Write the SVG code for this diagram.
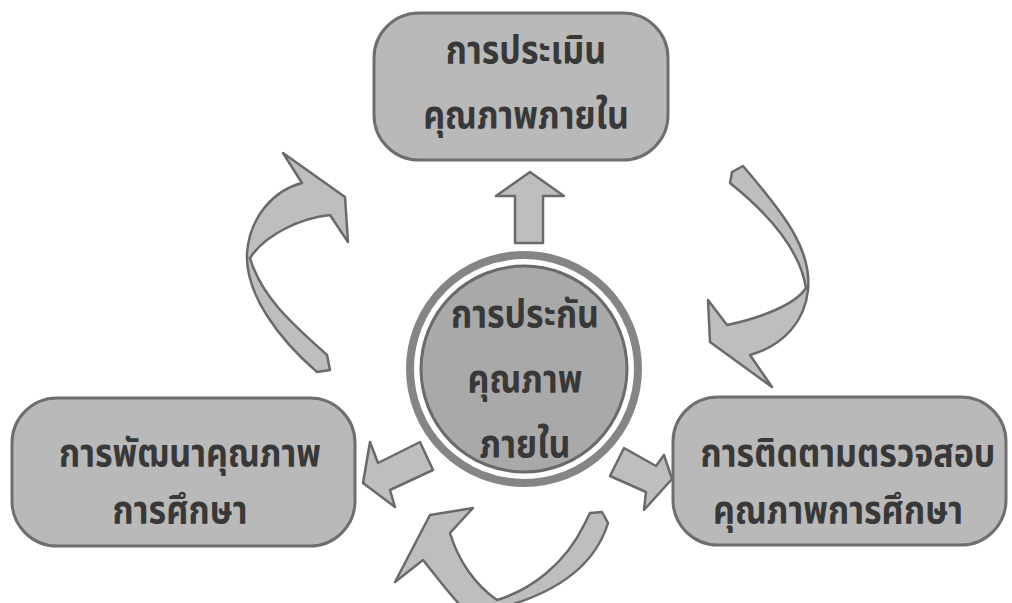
<svg xmlns="http://www.w3.org/2000/svg" width="1012" height="603" viewBox="0 0 1012 603">
<style>
.box{fill:#b9b9b9;stroke:#6e6e6e;stroke-width:3}
.arr{fill:#bebebe;stroke:#6a6a6a;stroke-width:2.5;stroke-linejoin:round}
.t{font-family:"Noto Sans Thai","Noto Sans","DejaVu Sans",sans-serif;font-weight:bold;font-size:34px;fill:#383838;text-anchor:middle}
</style>
<rect width="1012" height="603" fill="#ffffff"/>
<g id="connectors">
<polygon class="arr" points="515,243 543,243 543,196 564,196 530,172 496,196 515,196"/>
<polygon class="arr" points="420,442 433,470 390,490 395,507 363,483 370,442 378,463"/>
<polygon class="arr" points="624,448 610,476 646,492 644,510 672,479 664,455 656,466"/>
<path class="arr" d="M330 370 L327 355 C300 330 262 300 250 258 C265 235 300 218 330 215 L348 242 L345 197 L283 153 L302 183 C275 190 250 215 247 253 C245 295 280 340 317 372 Z"/>
<path class="arr" d="M730 183 L732 172 L743 166 C785 215 812 250 808 290 C805 320 785 345 750 355 L772 387 L710 342 L708 300 L727 325 C760 318 795 305 806 288 C800 250 770 215 730 183 Z"/>
<path class="arr" d="M585 523 L590 513 L602 512 L608 523 C595 565 560 590 510 605 L460 605 C448 592 435 575 423 560 L395 582 L430 515 L473 508 L450 533 C458 560 475 585 497 600 C530 590 565 565 585 523 Z"/>
</g>
<g id="node-top">
<rect class="box" x="374" y="13" width="294" height="147" rx="45"/>
<text class="t" transform="translate(526,63) scale(1,1.15)">การประเมิน</text>
<text class="t" transform="translate(526,128) scale(1,1.15)">คุณภาพภายใน</text>
</g>
<g id="node-center">
<circle cx="524" cy="369" r="114" fill="none" stroke="#858585" stroke-width="8"/>
<circle cx="524" cy="369" r="103" fill="#a9a9a9" stroke="#6a6a6a" stroke-width="3"/>
<text class="t" transform="translate(525,327) scale(1,1.15)">การประกัน</text>
<text class="t" transform="translate(525,392) scale(1,1.15)">คุณภาพ</text>
<text class="t" transform="translate(525,457) scale(1,1.15)">ภายใน</text>
</g>
<g id="node-left">
<rect class="box" x="12" y="398" width="343" height="148" rx="45"/>
<text class="t" transform="translate(190,466) scale(1,1.15)">การพัฒนาคุณภาพ</text>
<text class="t" transform="translate(180,523) scale(1,1.15)">การศึกษา</text>
</g>
<g id="node-right">
<rect class="box" x="673" y="397" width="333" height="148" rx="45"/>
<text class="t" transform="translate(848,466) scale(1,1.15)">การติดตามตรวจสอบ</text>
<text class="t" transform="translate(838,523) scale(1,1.15)">คุณภาพการศึกษา</text>
</g>
</svg>
